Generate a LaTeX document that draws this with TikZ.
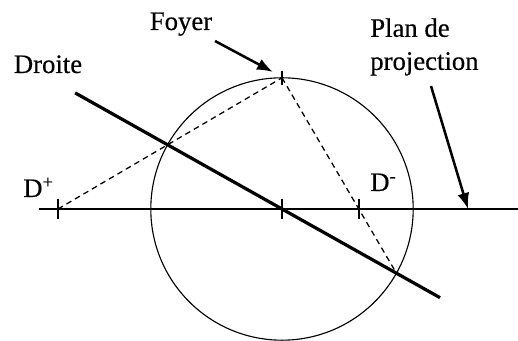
\documentclass[tikz,border=0pt]{standalone}
\usepackage{fontspec}
\setmainfont{Liberation Serif}
\newfontfamily\lblfont{Liberation Serif}[FakeBold=0.4]
\usetikzlibrary{arrows.meta,calc}
\begin{document}
\begin{tikzpicture}[scale=1.0, every node/.style={font=\lblfont\fontsize{19}{23.5}\selectfont, inner sep=0pt},
    pointer/.style={line width=1.8pt, -{Latex[length=4mm,width=3mm]}},
    projline/.style={line width=0.9pt, dash pattern=on 4pt off 3pt}]
    \useasboundingbox (0,0) rectangle (12.95,8.525);
    % sphere and projection plane
    \coordinate (centre) at (7.05,3.3);
    \coordinate (foyer) at ($(centre)+(90:3.28)$);
    \coordinate (inter1) at ($(centre)+(150.7:3.28)$);
    \coordinate (inter2) at ($(centre)+(-29.3:3.28)$);
    \coordinate (dplus) at (1.45,3.3);
    \coordinate (dmoins) at (8.97,3.3);
    \draw[line width=0.8pt] (centre) circle (3.28);
    \draw[line width=1.1pt] (0.975,3.3) -- (12.95,3.3);
    % ticks
    \draw[line width=1pt] (dplus) ++(0,-0.25) -- ++(0,0.5);
    \draw[line width=0.8pt] (centre) ++(0,-0.25) -- ++(0,0.5);
    \draw[line width=1.8pt] (dmoins) ++(0,-0.25) -- ++(0,0.5);
    \draw[line width=0.8pt] (foyer) ++(0,-0.18) -- ++(0,0.36);
    % droite
    \draw[line width=2.3pt] ($(centre)+(150.7:5.93)$) -- ($(centre)+(-29.3:4.53)$);
    % projection rays
    \draw[projline] (dplus) -- (inter1) -- (foyer);
    \draw[projline] (foyer) -- (dmoins) -- (inter2);
    % labels
    \node[anchor=base] (foyerlbl) at (4.525,7.775) {Foyer};
    \node[anchor=base] (droitelbl) at (1.2,6.7) {Droite};
    \node[anchor=base west] (dpluslbl) at (0.575,3.6) {D\textsuperscript{+}};
    \node[anchor=base west] (dmoinslbl) at (9.25,3.75) {D\textsuperscript{-}};
    \node[anchor=north west, align=left] (planlbl) at (9.25,8.075) {Plan de\\projection};
    % pointers
    \coordinate (foyertail) at (5.375,7.5);
    \coordinate (foyertip) at (6.825,6.725);
    \coordinate (plantail) at (10.775,6.375);
    \coordinate (plantip) at (11.7,3.3);
    \draw[pointer] (foyertail) -- (foyertip);
    \draw[pointer] (plantail) -- (plantip);
\end{tikzpicture}
\end{document}
